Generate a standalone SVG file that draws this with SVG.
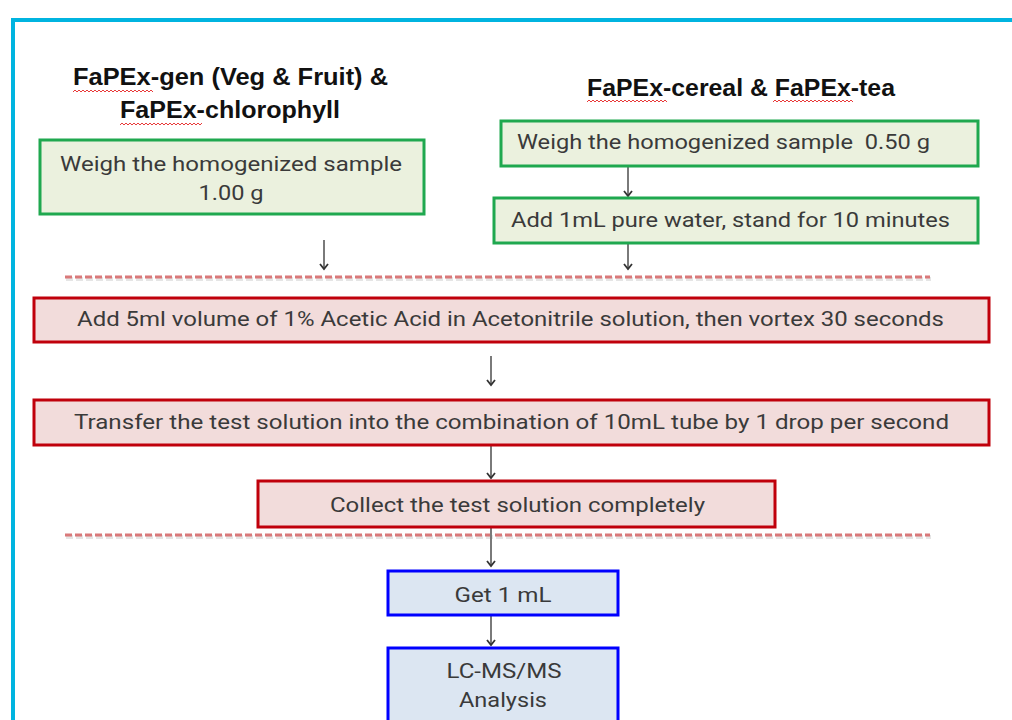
<svg xmlns="http://www.w3.org/2000/svg" width="1012" height="720" viewBox="0 0 1012 720">
<style>
.title{font-family:"Liberation Sans",Arial,sans-serif;font-weight:bold;font-size:24px;fill:#111;text-anchor:middle}
.t{font-family:Roboto,"Liberation Sans",Arial,sans-serif;font-size:21px;fill:#3a3a3a}
.c{text-anchor:middle}
.green{fill:#ebf1de;stroke:#1fa84f;stroke-width:3}
.red{fill:#f2dcdb;stroke:#c0000b;stroke-width:3}
.blue{fill:#dce6f2;stroke:#0000ff;stroke-width:3}
.arr{stroke:#7a7a7a;stroke-width:2;fill:none;marker-end:url(#ah)}
.dash{stroke:#d9797a;stroke-width:3;stroke-dasharray:7 3;fill:none}
.dashsh{stroke:#999;stroke-width:4;stroke-dasharray:7 3;fill:none;opacity:0.25}
.sq{stroke:#e83a3a;stroke-width:1;fill:none}
</style>
<defs>
<marker id="ah" markerWidth="8" markerHeight="10" refX="6" refY="5" orient="auto" markerUnits="userSpaceOnUse" viewBox="0 0 8 10">
<path d="M1,1 L6,5 L1,9" fill="none" stroke="#333" stroke-width="1.8"/>
</marker>
</defs>
<rect x="0" y="0" width="1012" height="720" fill="#fff"/>
<rect id="frame" x="13" y="20" width="1100" height="800" fill="none" stroke="#00b4e0" stroke-width="4"/>

<g id="titles">
<text class="title" x="230.5" y="85" textLength="315" lengthAdjust="spacingAndGlyphs">FaPEx-gen (Veg &amp; Fruit) &amp;</text>
<text class="title" x="230" y="118" textLength="220" lengthAdjust="spacingAndGlyphs">FaPEx-chlorophyll</text>
<text class="title" x="741" y="96" textLength="308" lengthAdjust="spacingAndGlyphs">FaPEx-cereal &amp; FaPEx-tea</text>
</g>

<g id="squiggles">
<path class="sq" d="M73,92 l2,-2 l2,2 l2,-2 l2,2 l2,-2 l2,2 l2,-2 l2,2 l2,-2 l2,2 l2,-2 l2,2 l2,-2 l2,2 l2,-2 l2,2 l2,-2 l2,2 l2,-2 l2,2 l2,-2 l2,2 l2,-2 l2,2 l2,-2 l2,2 l2,-2 l2,2 l2,-2 l2,2 l2,-2 l2,2 l2,-2 l2,2 l2,-2 l2,2 l2,-2 l2,2 l2,-2 l2,2"/>
<path class="sq" d="M120,125 l2,-2 l2,2 l2,-2 l2,2 l2,-2 l2,2 l2,-2 l2,2 l2,-2 l2,2 l2,-2 l2,2 l2,-2 l2,2 l2,-2 l2,2 l2,-2 l2,2 l2,-2 l2,2 l2,-2 l2,2 l2,-2 l2,2 l2,-2 l2,2 l2,-2 l2,2 l2,-2 l2,2 l2,-2 l2,2 l2,-2 l2,2 l2,-2 l2,2 l2,-2 l2,2 l2,-2 l2,2 l2,-2"/>
<path class="sq" d="M587,102 l2,-2 l2,2 l2,-2 l2,2 l2,-2 l2,2 l2,-2 l2,2 l2,-2 l2,2 l2,-2 l2,2 l2,-2 l2,2 l2,-2 l2,2 l2,-2 l2,2 l2,-2 l2,2 l2,-2 l2,2 l2,-2 l2,2 l2,-2 l2,2 l2,-2 l2,2 l2,-2 l2,2 l2,-2 l2,2 l2,-2 l2,2 l2,-2 l2,2 l2,-2 l2,2 l2,-2 l2,2"/>
<path class="sq" d="M773,102 l2,-2 l2,2 l2,-2 l2,2 l2,-2 l2,2 l2,-2 l2,2 l2,-2 l2,2 l2,-2 l2,2 l2,-2 l2,2 l2,-2 l2,2 l2,-2 l2,2 l2,-2 l2,2 l2,-2 l2,2 l2,-2 l2,2 l2,-2 l2,2 l2,-2 l2,2 l2,-2 l2,2 l2,-2 l2,2 l2,-2 l2,2 l2,-2 l2,2 l2,-2 l2,2 l2,-2 l2,2"/>
<path class="sq" d="M558,233 l2,-2 l2,2 l2,-2 l2,2 l2,-2 l2,2 l2,-2 l2,2 l2,-2 l2,2 l2,-2 l2,2 l2,-2 l2,2 l2,-2 l2,2 l2,-2 l2,2 l2,-2 l2,2 l2,-2 l2,2 l2,-2 l2,2"/>
<path class="sq" d="M607,435 l2,-2 l2,2 l2,-2 l2,2 l2,-2 l2,2 l2,-2 l2,2 l2,-2 l2,2 l2,-2 l2,2 l2,-2 l2,2 l2,-2 l2,2 l2,-2 l2,2 l2,-2 l2,2 l2,-2 l2,2 l2,-2 l2,2 l2,-2 l2,2 l2,-2 l2,2 l2,-2 l2,2"/>
</g>

<g id="separators">
<line class="dashsh" x1="66" y1="279" x2="931" y2="279"/>
<line class="dash" x1="65" y1="277" x2="930" y2="277"/>
<line class="dashsh" x1="66" y1="537" x2="931" y2="537"/>
<line class="dash" x1="65" y1="535" x2="930" y2="535"/>
</g>

<g id="connectors">
<line class="arr" x1="324" y1="240" x2="324" y2="269"/>
<line class="arr" x1="628" y1="166" x2="628" y2="196"/>
<line class="arr" x1="628" y1="243" x2="628" y2="269"/>
<line class="arr" x1="491" y1="356" x2="491" y2="385"/>
<line class="arr" x1="491" y1="446" x2="491" y2="478"/>
<line class="arr" x1="491" y1="528" x2="491" y2="566"/>
<line class="arr" x1="491" y1="616" x2="491" y2="645"/>
</g>

<g id="weigh-1g">
<rect class="green" x="40" y="140" width="384" height="74"/>
<text class="t c" x="231" y="171" textLength="342" lengthAdjust="spacingAndGlyphs">Weigh the homogenized sample</text>
<text class="t c" x="231" y="200" textLength="65" lengthAdjust="spacingAndGlyphs">1.00 g</text>
</g>

<g id="weigh-05g">
<rect class="green" x="501" y="121" width="477" height="45"/>
<text class="t" x="517" y="149" textLength="413" lengthAdjust="spacingAndGlyphs" xml:space="preserve">Weigh the homogenized sample  0.50 g</text>
</g>

<g id="add-water">
<rect class="green" x="494" y="198" width="484" height="45"/>
<text class="t" x="511" y="227" textLength="439" lengthAdjust="spacingAndGlyphs">Add 1mL pure water, stand for 10 minutes</text>
</g>

<g id="add-acetonitrile">
<rect class="red" x="34" y="298" width="955" height="44"/>
<text class="t c" x="510.5" y="326" textLength="867" lengthAdjust="spacingAndGlyphs">Add 5ml volume of 1% Acetic Acid in Acetonitrile solution, then vortex 30 seconds</text>
</g>

<g id="transfer">
<rect class="red" x="34" y="400" width="955" height="45"/>
<text class="t c" x="511.5" y="429" textLength="875" lengthAdjust="spacingAndGlyphs">Transfer the test solution into the combination of 10mL tube by 1 drop per second</text>
</g>

<g id="collect">
<rect class="red" x="258" y="481" width="517" height="46"/>
<text class="t c" x="517.5" y="512" textLength="375" lengthAdjust="spacingAndGlyphs">Collect the test solution completely</text>
</g>

<g id="get-1ml">
<rect class="blue" x="388" y="571" width="230" height="44"/>
<text class="t c" x="503" y="602" textLength="97" lengthAdjust="spacingAndGlyphs">Get 1 mL</text>
</g>

<g id="lcmsms">
<rect class="blue" x="388" y="648" width="230" height="90"/>
<text class="t c" x="504" y="678" textLength="115" lengthAdjust="spacingAndGlyphs">LC-MS/MS</text>
<text class="t c" x="503" y="707" textLength="88" lengthAdjust="spacingAndGlyphs">Analysis</text>
</g>
</svg>
